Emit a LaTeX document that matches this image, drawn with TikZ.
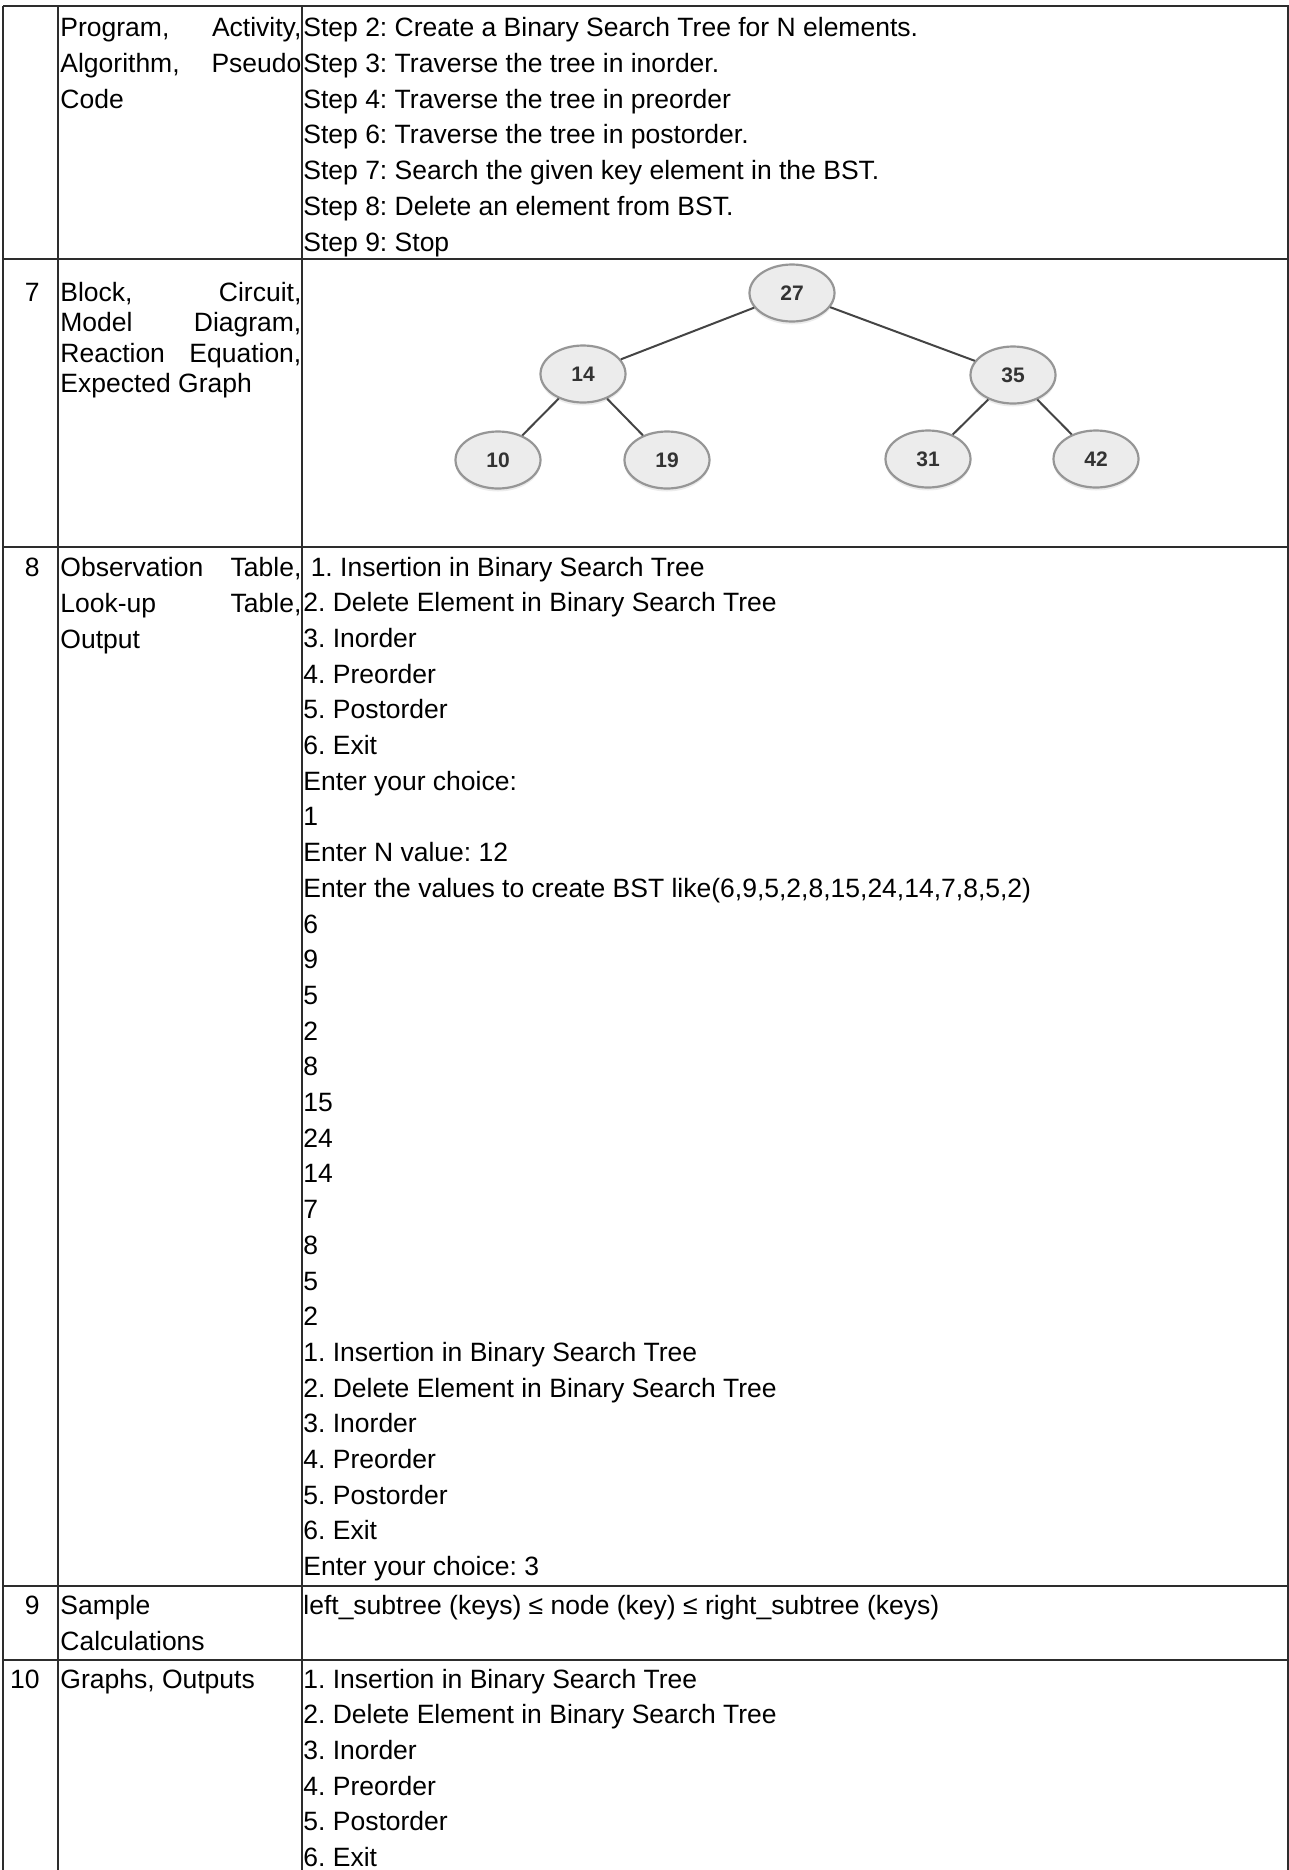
\documentclass[tikz,border=0pt]{standalone}
\usepackage{fontspec}
\setmainfont{Liberation Sans}
\frenchspacing
\usetikzlibrary{shapes.geometric, shadows}
\definecolor{gridline}{RGB}{45, 45, 45}
\definecolor{keyfill}{RGB}{236, 236, 236}
\definecolor{keyborder}{RGB}{150, 150, 150}
\definecolor{branchgray}{RGB}{68, 68, 68}
\definecolor{keytext}{RGB}{51, 51, 51}

\begin{document}
\begin{tikzpicture}[x=0.5pt, y=-0.5pt,
    grid/.style={gridline, line width=0.8pt},
    txt/.style={anchor=base west, inner sep=0pt, font=\fontsize{13.25pt}{17.9pt}\selectfont},
    num/.style={txt, anchor=base east},
    bst/.style={ellipse, draw=keyborder, line width=1.1pt, fill=keyfill,
        minimum width=42.5pt, minimum height=28.5pt, inner sep=0pt,
        font=\fontsize{10.5pt}{12pt}\selectfont\bfseries, text=keytext,
        drop shadow={opacity=0.15, shadow xshift=0pt, shadow yshift=-1.5pt}},
    branch/.style={branchgray, line width=1pt}]
    \useasboundingbox (0,0) rectangle (1289,1870);

    % 表格线
    \draw[grid] (3,6) -- (1289,6);
    \foreach \y in {259,547,1586,1660}
        \draw[grid] (3,\y) -- (1289,\y);
    \foreach \x in {3,58,302,1288}
        \draw[grid] (\x,6) -- (\x,1870);

    % 行号
    \node[num] (r7) at (40,301) {7};
    \node[num] (r8) at (40,576) {8};
    \node[num] (r9) at (40,1614) {9};
    \node[num] (r10) at (40,1688) {10};

    % 左列
    \node[txt] (prog) at (60,36.5) {\makebox[120.5pt][s]{Program, Activity,}};
    \node[txt] (algo) at (60,72.5) {\makebox[120.5pt][s]{Algorithm, Pseudo}};
    \node[txt] (code) at (60,108.5) {Code};
    \node[txt] (block) at (60,301) {\makebox[120.5pt][s]{Block, Circuit,}};
    \node[txt] (model) at (60,331.5) {\makebox[120.5pt][s]{Model Diagram,}};
    \node[txt] (react) at (60,362) {\makebox[120.5pt][s]{Reaction Equation,}};
    \node[txt] (expgr) at (60,392.5) {Expected Graph};
    \node[txt] (obs) at (60,576) {\makebox[120.5pt][s]{Observation Table,}};
    \node[txt] (look) at (60,612) {\makebox[120.5pt][s]{Look-up Table,}};
    \node[txt] (outp) at (60,648) {Output};
    \node[txt] (sample) at (60,1614) {Sample};
    \node[txt] (calc) at (60,1650) {Calculations};
    \node[txt] (graphs) at (60,1688) {Graphs, Outputs};

    % 算法步骤
    \foreach \t [count=\i from 0] in {{Step 2: Create a Binary Search Tree for N elements.},
        {Step 3: Traverse the tree in inorder.}, {Step 4: Traverse the tree in preorder},
        {Step 6: Traverse the tree in postorder.}, {Step 7: Search the given key element in the BST.},
        {Step 8: Delete an element from BST.}, {Step 9: Stop}}
        \node[txt] (step\i) at (303,{36.5+35.8*\i}) {\t};

    % 二叉搜索树
    \node[bst] (k27) at (792,293) {27};
    \node[bst] (k14) at (583,374) {14};
    \node[bst] (k35) at (1013,375) {35};
    \node[bst] (k10) at (498,460) {10};
    \node[bst] (k19) at (667,460) {19};
    \node[bst] (k31) at (928,459) {31};
    \node[bst] (k42) at (1096,459) {42};
    \draw[branch] (k27) -- (k14);
    \draw[branch] (k27) -- (k35);
    \draw[branch] (k14) -- (k10);
    \draw[branch] (k14) -- (k19);
    \draw[branch] (k35) -- (k31);
    \draw[branch] (k35) -- (k42);

    % 程序输出
    \foreach \t [count=\i from 0] in {{\ 1. Insertion in Binary Search Tree},
        {2. Delete Element in Binary Search Tree}, {3. Inorder}, {4. Preorder},
        {5. Postorder}, {6. Exit}, {Enter your choice:}, 1, {Enter N value: 12},
        {Enter the values to create BST like(6,9,5,2,8,15,24,14,7,8,5,2)},
        6, 9, 5, 2, 8, 15, 24, 14, 7, 8, 5, 2,
        {1. Insertion in Binary Search Tree}, {2. Delete Element in Binary Search Tree},
        {3. Inorder}, {4. Preorder}, {5. Postorder}, {6. Exit}, {Enter your choice: 3}}
        \node[txt] (out\i) at (303,{576+35.7*\i}) {\t};

    % 计算与结果
    \node[txt] (rule) at (303,1614) {left\_subtree (keys) ≤ node (key) ≤ right\_subtree (keys)};
    \foreach \t [count=\i from 0] in {{1. Insertion in Binary Search Tree},
        {2. Delete Element in Binary Search Tree}, {3. Inorder}, {4. Preorder},
        {5. Postorder}, {6. Exit}}
        \node[txt] (res\i) at (303,{1688+35.7*\i}) {\t};
\end{tikzpicture}
\end{document}
